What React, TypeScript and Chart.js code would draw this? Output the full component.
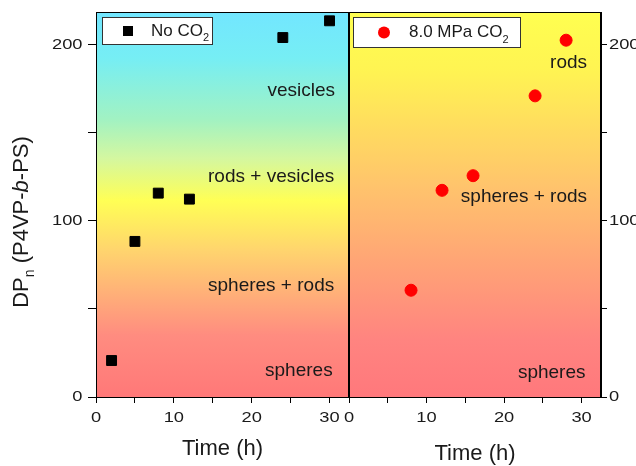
import React, { useEffect, useRef } from "react";
import { Chart, registerables } from "chart.js";
Chart.register(...registerables);

const timeNoCO2 = [2, 5, 8, 12, 24, 30];
const dpNoCO2 = [20.7, 88.3, 115.7, 112.3, 204, 213.5];
const timeCO2 = [8, 12, 16, 24, 28];
const dpCO2 = [60.6, 117.3, 125.6, 170.9, 202.5];
const xTickLabels = [0, 10, 20, 30];
const yTickLabels = [0, 100, 200];
const leftLabels = ["vesicles", "rods + vesicles", "spheres + rods", "spheres"];
const leftLabelX = [30.7, 30.6, 30.6, 30.4];
const leftLabelY = [174, 125, 63, 15];
const rightLabels = ["rods", "spheres + rods", "spheres"];
const rightLabelX = [30.7, 30.7, 30.5];
const rightLabelY = [189.6, 113.5, 13.5];
const legendLeft = "No CO";
const legendRight = "8.0 MPa CO";
const xTitle = "Time (h)";

const FONT = "Arial, 'Liberation Sans', Helvetica, sans-serif";
const TXT = "#1a1a1a";

type Run = { text: string; font: string; dy?: number };

function drawRuns(ctx: CanvasRenderingContext2D, runs: Run[], x: number, y: number, align: string) {
  let total = 0;
  for (const r of runs) {
    ctx.font = r.font;
    total += ctx.measureText(r.text).width;
  }
  let cx = align === "center" ? x - total / 2 : x;
  for (const r of runs) {
    ctx.font = r.font;
    ctx.fillText(r.text, cx, y + (r.dy || 0));
    cx += ctx.measureText(r.text).width;
  }
}

function drawStretched(ctx: CanvasRenderingContext2D, text: string, x: number, y: number, align: CanvasTextAlign, font: string, sx: number) {
  ctx.save();
  ctx.translate(x, y);
  ctx.scale(sx, 1);
  ctx.font = font;
  ctx.textAlign = align;
  ctx.textBaseline = "middle";
  ctx.fillText(text, 0, 0);
  ctx.restore();
}

function makeDecor(cfg: any) {
  return {
    id: "decor" + cfg.name,
    beforeDraw(chart: any) {
      const { ctx, chartArea: a } = chart;
      const g = ctx.createLinearGradient(0, a.top, 0, a.bottom);
      for (const [p, c] of cfg.stops) g.addColorStop(p, c);
      ctx.save();
      ctx.fillStyle = g;
      ctx.fillRect(a.left, a.top, a.right - a.left, a.bottom - a.top);
      ctx.restore();
    },
    afterDraw(chart: any) {
      const { ctx, chartArea: a, scales } = chart;
      ctx.save();
      ctx.strokeStyle = "#000";
      ctx.lineWidth = 1;
      ctx.strokeRect(a.left + 0.5, a.top + 0.5, a.right - a.left - 1, a.bottom - a.top);
      // tick labels
      ctx.fillStyle = TXT;
      const tf = "15px " + FONT;
      xTickLabels.forEach((v) => {
        drawStretched(ctx, String(v), scales.x.getPixelForValue(v), a.bottom + 21, "center", tf, 1.22);
      });
      yTickLabels.forEach((v) => {
        const py = scales.y.getPixelForValue(v);
        if (cfg.yRight) drawStretched(ctx, String(v), a.right + 8, py, "left", tf, 1.22);
        else drawStretched(ctx, String(v), a.left - 13.5, py, "right", tf, 1.22);
      });
      // annotations
      ctx.fillStyle = TXT;
      ctx.textBaseline = "middle";
      ctx.textAlign = "right";
      ctx.font = "19px " + FONT;
      cfg.labels.forEach((t: string, i: number) => {
        ctx.fillText(t, scales.x.getPixelForValue(cfg.lx[i]), scales.y.getPixelForValue(cfg.ly[i]));
      });
      // legend
      const L = cfg.legend;
      const lx = a.left + L.dx, ly = a.top + L.dy;
      ctx.fillStyle = "#fff";
      ctx.fillRect(lx, ly, L.w, L.h);
      ctx.strokeStyle = "#333";
      ctx.strokeRect(lx + 0.5, ly + 0.5, L.w, L.h);
      const my = ly + L.h / 2 + 0.5;
      if (L.marker === "rect") {
        ctx.fillStyle = "#000";
        ctx.fillRect(lx + 21, my - 5, 10, 10);
      } else {
        ctx.fillStyle = "#ff0000";
        ctx.beginPath();
        ctx.arc(lx + 31, my, 6, 0, Math.PI * 2);
        ctx.fill();
      }
      ctx.fillStyle = TXT;
      ctx.textAlign = "left";
      drawRuns(ctx, [
        { text: L.text, font: "17px " + FONT },
        { text: "2", font: "11px " + FONT, dy: 7 },
      ], lx + L.tx, my, "left");
      // x title
      drawRuns(ctx, [{ text: xTitle, font: "22px " + FONT }], (a.left + a.right) / 2, cfg.titleY, "center");
      if (cfg.yTitle) {
        ctx.translate(22, 222);
        ctx.rotate(-Math.PI / 2);
        drawRuns(ctx, [
          { text: "DP", font: "22px " + FONT },
          { text: "n", font: "14px " + FONT, dy: 8 },
          { text: " (P4VP-", font: "22px " + FONT },
          { text: "b", font: "italic 22px " + FONT },
          { text: "-PS)", font: "22px " + FONT },
        ], 0, 0, "center");
      }
      ctx.restore();
    },
  };
}

function zeroPad(s: any) {
  s.paddingLeft = 0;
  s.paddingRight = 0;
  s.paddingTop = 0;
  s.paddingBottom = 0;
}

function xScale() {
  return {
    type: "linear",
    min: 0,
    max: 32.5,
    ticks: {
      display: false,
      stepSize: 5,
      includeBounds: false,
      autoSkip: false,
      maxRotation: 0,
    },
    grid: { drawOnChartArea: false, drawTicks: true, tickLength: 6, color: "#000", lineWidth: 1 },
    border: { display: true, color: "#000", width: 1 },
    afterFit: (s: any) => {
      s.height = 69;
      zeroPad(s);
    },
  };
}

function yScale(position: string, width: number, tickLen: number) {
  return {
    type: "linear",
    position,
    min: 0,
    max: 218.5,
    ticks: {
      display: false,
      stepSize: 50,
      includeBounds: false,
      autoSkip: false,
    },
    grid: { drawOnChartArea: false, drawTicks: true, tickLength: tickLen, color: "#000", lineWidth: 1 },
    border: { display: true, color: "#000", width: 1 },
    afterFit: (s: any) => {
      s.width = width;
      zeroPad(s);
    },
  };
}

export default function App() {
  const leftRef = useRef<HTMLCanvasElement>(null);
  const rightRef = useRef<HTMLCanvasElement>(null);
  useEffect(() => {
    document.body.style.margin = "0";
    const c1 = new Chart(leftRef.current!, {
      type: "scatter",
      data: {
        datasets: [
          {
            label: "No CO2",
            data: timeNoCO2.map((t, i) => ({ x: t, y: dpNoCO2[i] })),
            pointStyle: "rect",
            pointRadius: 7,
            backgroundColor: "#000",
            borderColor: "#000",
            clip: false,
          },
        ],
      },
      options: {
        responsive: false,
        animation: false,
        layout: { autoPadding: false, padding: { left: 0, right: 1, top: 12, bottom: 0 } },
        scales: { x: xScale(), y: yScale("left", 96, 8) } as any,
        plugins: { legend: { display: false }, tooltip: { enabled: false } },
      },
      plugins: [
        makeDecor({
          name: "L",
          stops: [
            [0, "#72e6ff"],
            [0.12, "#76eef4"],
            [0.28, "#a2f2c2"],
            [0.38, "#d4f7a0"],
            [0.49, "#ffff55"],
            [0.62, "#ffd46e"],
            [0.73, "#ffb078"],
            [0.84, "#ff8c80"],
            [1, "#ff7878"],
          ],
          labels: leftLabels,
          lx: leftLabelX,
          ly: leftLabelY,
          legend: { dx: 6, dy: 5, w: 110, h: 27, marker: "rect", text: legendLeft, tx: 49 },
          titleY: 449,
          yTitle: true,
          yRight: false,
        }),
      ],
    } as any);
    const c2 = new Chart(rightRef.current!, {
      type: "scatter",
      data: {
        datasets: [
          {
            label: "8.0 MPa CO2",
            data: timeCO2.map((t, i) => ({ x: t, y: dpCO2[i] })),
            pointStyle: "circle",
            pointRadius: 6,
            backgroundColor: "#ff0000",
            borderColor: "#ff0000",
            clip: false,
          },
        ],
      },
      options: {
        responsive: false,
        animation: false,
        layout: { autoPadding: false, padding: { left: 9, right: 0, top: 12, bottom: 0 } },
        scales: { x: xScale(), y: yScale("right", 59, 6) } as any,
        plugins: { legend: { display: false }, tooltip: { enabled: false } },
      },
      plugins: [
        makeDecor({
          name: "R",
          stops: [
            [0, "#ffff50"],
            [0.15, "#fff452"],
            [0.45, "#ffc46c"],
            [0.7, "#ff9c78"],
            [0.85, "#ff8480"],
            [1, "#ff787c"],
          ],
          labels: rightLabels,
          lx: rightLabelX,
          ly: rightLabelY,
          legend: { dx: 4, dy: 5, w: 167, h: 30, marker: "circle", text: legendRight, tx: 56 },
          titleY: 454,
          yTitle: false,
          yRight: true,
        }),
      ],
    } as any);
    return () => {
      c1.destroy();
      c2.destroy();
    };
  }, []);
  return (
    <div style={{ position: "relative", width: 636, height: 466, overflow: "hidden", background: "#fff" }}>
      <canvas ref={leftRef} width={350} height={466} style={{ position: "absolute", left: 0, top: 0 }} />
      <canvas ref={rightRef} width={320} height={466} style={{ position: "absolute", left: 340, top: 0 }} />
    </div>
  );
}
